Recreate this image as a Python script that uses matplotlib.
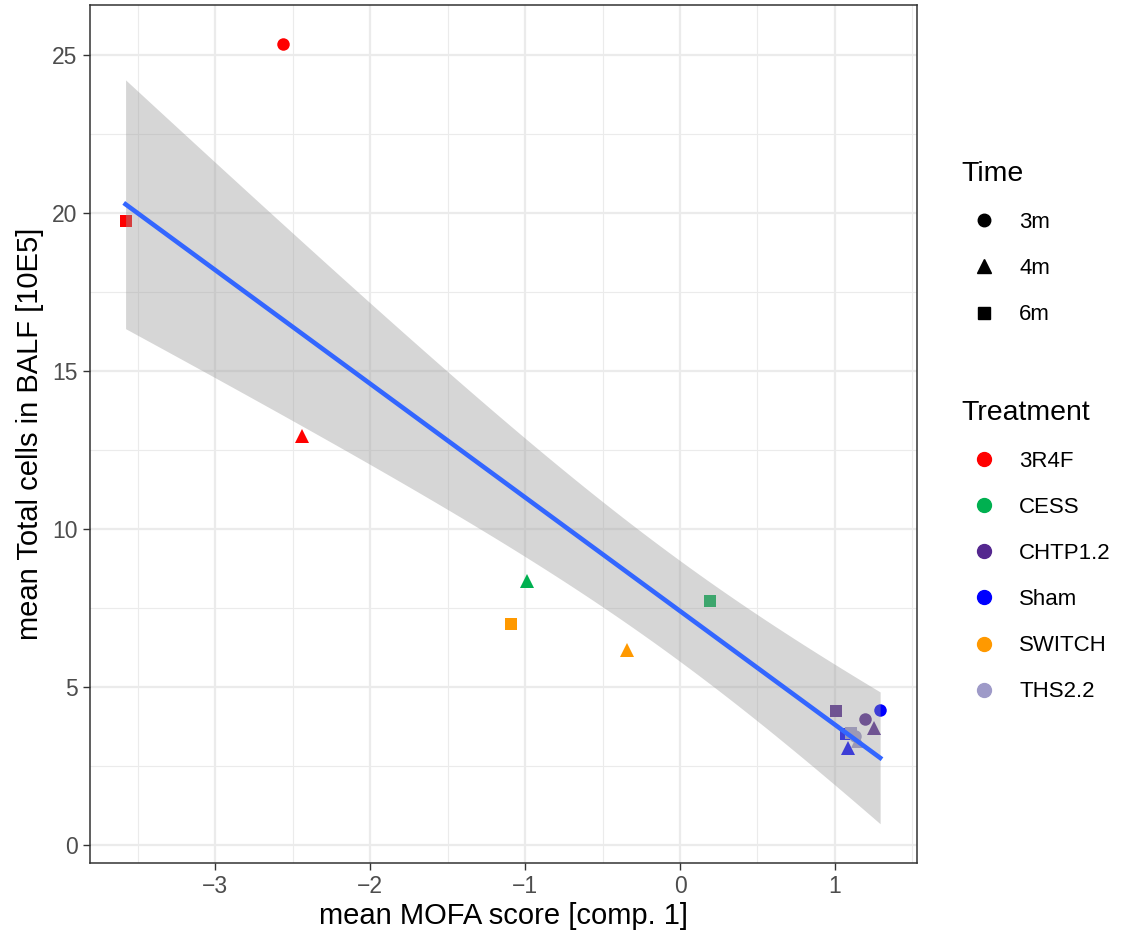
import numpy as np
import matplotlib.pyplot as plt
from matplotlib.lines import Line2D

plt.rcParams['font.family'] = ['Liberation Sans', 'DejaVu Sans']

# mean values per treatment and time point
treatment = ['3R4F', '3R4F', '3R4F', 'CESS', 'CESS',
             'CHTP1.2', 'CHTP1.2', 'CHTP1.2', 'Sham', 'Sham', 'Sham',
             'SWITCH', 'SWITCH', 'THS2.2', 'THS2.2', 'THS2.2']
time = ['3m', '4m', '6m', '4m', '6m',
        '3m', '4m', '6m', '3m', '4m', '6m',
        '4m', '6m', '3m', '4m', '6m']
mofa = np.array([-2.565, -2.443, -3.58, -0.989, 0.194,
                 1.195, 1.254, 1.008, 1.292, 1.086, 1.07,
                 -0.342, -1.092, 1.13, 1.15, 1.105])
cells = np.array([25.35, 12.95, 19.75, 8.35, 7.72,
                  3.99, 3.70, 4.24, 4.27, 3.07, 3.50,
                  6.17, 6.99, 3.45, 3.30, 3.54])

treat_levels = ['3R4F', 'CESS', 'CHTP1.2', 'Sham', 'SWITCH', 'THS2.2']
treat_colors = ['#FF0000', '#00B050', '#54278F', '#0000FF', '#FF9900', '#9E9AC8']
time_levels = ['3m', '4m', '6m']
time_markers = ['o', '^', 's']
time_sizes = [9, 10, 9]

col = dict(zip(treat_levels, treat_colors))
mk = dict(zip(time_levels, time_markers))
ms = dict(zip(time_levels, time_sizes))

fig = plt.figure(figsize=(11.3, 9.4), dpi=100)
ax = fig.add_axes([0.0796, 0.0819, 0.7319, 0.9128])

for t, m, x, y in zip(treatment, time, mofa, cells):
    ax.plot(x, y, marker=mk[m], color=col[t], markersize=ms[m],
            linestyle='none', markeredgewidth=0, zorder=3)

# linear fit with 95% confidence band
n = len(mofa)
b1, b0 = np.polyfit(mofa, cells, 1)
xs = np.linspace(mofa.min(), mofa.max(), 80)
ys = b0 + b1 * xs
resid = cells - (b0 + b1 * mofa)
s = np.sqrt(np.sum(resid**2) / (n - 2))
sxx = np.sum((mofa - mofa.mean())**2)
se = s * np.sqrt(1 / n + (xs - mofa.mean())**2 / sxx)
t975 = 2.145  # df = 14
ax.fill_between(xs, ys - t975 * se, ys + t975 * se, color='#999999',
                alpha=0.4, linewidth=0, zorder=4)
ax.plot(xs, ys, color='#3366FF', linewidth=3.3, zorder=5)

ax.set_xlim(-3.81, 1.53)
ax.set_ylim(-0.57, 26.58)
ax.set_xticks([-3, -2, -1, 0, 1])
ax.set_xticklabels(['\u22123', '\u22122', '\u22121', '0', '1'])
ax.set_yticks([0, 5, 10, 15, 20, 25])
ax.set_xticks(np.arange(-3.5, 1.6, 1), minor=True)
ax.set_yticks(np.arange(2.5, 26, 5), minor=True)
ax.grid(which='major', color='#EBEBEB', linewidth=1.6, zorder=0)
ax.grid(which='minor', color='#EBEBEB', linewidth=0.8, zorder=0)
ax.set_axisbelow(True)
ax.tick_params(which='minor', length=0)
ax.tick_params(which='major', length=5.3, color='#333333', width=1,
               labelsize=16.5, labelcolor='#4D4D4D', pad=3.5)
for sp in ax.spines.values():
    sp.set_color('#333333')
    sp.set_linewidth(1.1)
ax.set_xlabel('mean MOFA score [comp. 1]', fontsize=21, labelpad=3)
ax.set_ylabel('mean Total cells in BALF [10E5]', fontsize=21, labelpad=6)

h_time = [Line2D([], [], marker=m, color='black', linestyle='none', markersize=s_)
          for m, s_ in zip(time_markers, time_sizes)]
h_treat = [Line2D([], [], marker='o', color=c, linestyle='none', markersize=10)
           for c in treat_colors]
leg1 = fig.legend(h_time, time_levels, title='Time', loc='upper left',
                  bbox_to_anchor=(0.833, 0.85), frameon=False, fontsize=16,
                  title_fontsize=20.5, labelspacing=1.13, handletextpad=0.6,
                  alignment='left')
leg2 = fig.legend(h_treat, treat_levels, title='Treatment', loc='upper left',
                  bbox_to_anchor=(0.833, 0.596), frameon=False, fontsize=16,
                  title_fontsize=20.5, labelspacing=1.13, handletextpad=0.6,
                  alignment='left')

fig.savefig('out.png', dpi=100)
